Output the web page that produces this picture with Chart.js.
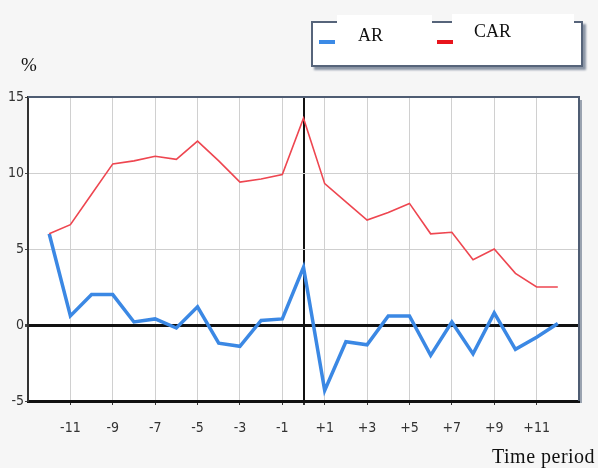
<!DOCTYPE html>
<html>
<head>
<meta charset="utf-8">
<script src="https://cdn.jsdelivr.net/npm/chart.js@4"></script>
<style>
  body { margin: 0; background: #f6f6f6; }
  #wrap { position: relative; width: 598px; height: 468px; overflow: hidden; }
  #grafico { position: absolute; left: 0; top: 0; }
  .txt { position: absolute; font-family: 'Liberation Serif', 'Times New Roman', serif; color: #111; white-space: nowrap; }
  #leyenda { position: absolute; left: 311px; top: 21px; width: 268px; height: 42px;
    border: 2px solid #56647a; background: #fff; box-shadow: 3px 3px 2px #8a94a4; }
  .caja { position: absolute; background: #fff; }
  .raya { position: absolute; height: 4px; width: 16px; }
</style>
</head>
<body>
<div id="wrap">
  <canvas id="grafico" width="598" height="468"></canvas>
  <div id="leyenda"></div>
  <div class="caja" style="left:337px; top:15px; width:95px; height:40px;"></div>
  <div class="caja" style="left:452px; top:14px; width:122px; height:38px;"></div>
  <div class="raya" style="left:319px; top:40px; background:#3b8ae6;"></div>
  <div class="raya" style="left:437px; top:40px; background:#e8141c;"></div>
  <div class="txt" style="left:358px; top:25px; font-size:18px;">AR</div>
  <div class="txt" style="left:474px; top:21px; font-size:18px;">CAR</div>
  <div class="txt" style="left:21px; top:54px; font-size:19px;">%</div>
  <div class="txt" style="left:492px; top:445px; font-size:20px; letter-spacing:0.5px;">Time period</div>
</div>
<script>
// Datos
const periodos = [-12, -11, -10, -9, -8, -7, -6, -5, -4, -3, -2, -1, 0, 1, 2, 3, 4, 5, 6, 7, 8, 9, 10, 11, 12];
const ar = [6.0, 0.6, 2.0, 2.0, 0.2, 0.4, -0.2, 1.2, -1.2, -1.4, 0.3, 0.4, 3.8, -4.3, -1.1, -1.3, 0.6, 0.6, -2.0, 0.2, -1.9, 0.8, -1.6, -0.8, 0.1];
const car = [6.0, 6.6, 8.6, 10.6, 10.8, 11.1, 10.9, 12.1, 10.8, 9.4, 9.6, 9.9, 13.6, 9.3, 8.1, 6.9, 7.4, 8.0, 6.0, 6.1, 4.3, 5.0, 3.4, 2.5, 2.5];
const marcasX = [-11, -9, -7, -5, -3, -1, 0, 1, 3, 5, 7, 9, 11];
const marcasY = [-5, 0, 5, 10, 15];

const fuente = "'Liberation Sans Narrow', 'DejaVu Sans Condensed', 'Liberation Sans', sans-serif";

// fondo blanco del area y bordes superior/derecho
const marco = {
    id: 'marco',
    beforeDraw(chart) {
        const { ctx, chartArea: a } = chart;
        ctx.save();
        ctx.fillStyle = '#fff';
        ctx.fillRect(a.left, a.top, a.right - a.left, a.bottom - a.top);
        ctx.restore();
    },
    afterDraw(chart) {
        const { ctx, chartArea: a } = chart;
        ctx.save();
        ctx.strokeStyle = '#9aa3b0';
        ctx.lineWidth = 2;
        ctx.beginPath();
        ctx.moveTo(a.right + 2, a.top + 3);
        ctx.lineTo(a.right + 2, a.bottom + 2);
        ctx.stroke();
        ctx.strokeStyle = '#4f5d73';
        ctx.lineWidth = 2;
        ctx.beginPath();
        ctx.moveTo(a.left, a.top);
        ctx.lineTo(a.right, a.top);
        ctx.lineTo(a.right, a.bottom);
        ctx.stroke();
        ctx.restore();
    }
};

new Chart(document.getElementById('grafico'), {
    type: 'line',
    data: {
        datasets: [
            {
                label: 'CAR',
                data: periodos.map((p, i) => ({ x: p, y: car[i] })),
                borderColor: '#ee4650',
                borderWidth: 1.6,
                pointRadius: 0,
                tension: 0
            },
            {
                label: 'AR',
                data: periodos.map((p, i) => ({ x: p, y: ar[i] })),
                borderColor: '#3b88e4',
                borderWidth: 3.5,
                pointRadius: 0,
                tension: 0
            }
        ]
    },
    options: {
        responsive: false,
        animation: false,
        layout: { padding: { top: 97, right: 19, left: 0, bottom: 0 } },
        plugins: { legend: { display: false }, tooltip: { enabled: false } },
        scales: {
            x: {
                type: 'linear',
                min: -13,
                max: 13,
                afterBuildTicks: (s) => { s.ticks = marcasX.map(v => ({ value: v })); },
                afterFit: (s) => { s.height = 67; },
                grid: {
                    color: (c) => c.tick && c.tick.value === 0 ? '#111' : '#d0d0d0',
                    lineWidth: (c) => c.tick && c.tick.value === 0 ? 2 : 1,
                    tickColor: '#333',
                    tickLength: 4
                },
                border: { color: '#111', width: 3 },
                ticks: {
                    autoSkip: false,
                    maxRotation: 0,
                    padding: 15,
                    color: '#333',
                    font: { family: fuente, size: 14, style: 'condensed' },
                    callback: (v) => v === 0 ? '' : (v > 0 ? '+' + v : '-' + Math.abs(v))
                }
            },
            y: {
                min: -5,
                max: 15,
                afterBuildTicks: (s) => { s.ticks = marcasY.map(v => ({ value: v })); },
                afterFit: (s) => { s.width = 28; },
                grid: {
                    color: (c) => c.tick && c.tick.value === 0 ? '#111' : '#cfcfcf',
                    lineWidth: (c) => c.tick && c.tick.value === 0 ? 3 : 1,
                    tickColor: '#444',
                    tickLength: 3
                },
                border: { color: '#333', width: 2 },
                ticks: {
                    padding: 1,
                    color: '#333',
                    font: { family: fuente, size: 14, style: 'condensed' }
                }
            }
        }
    },
    plugins: [marco]
});
</script>
</body>
</html>
